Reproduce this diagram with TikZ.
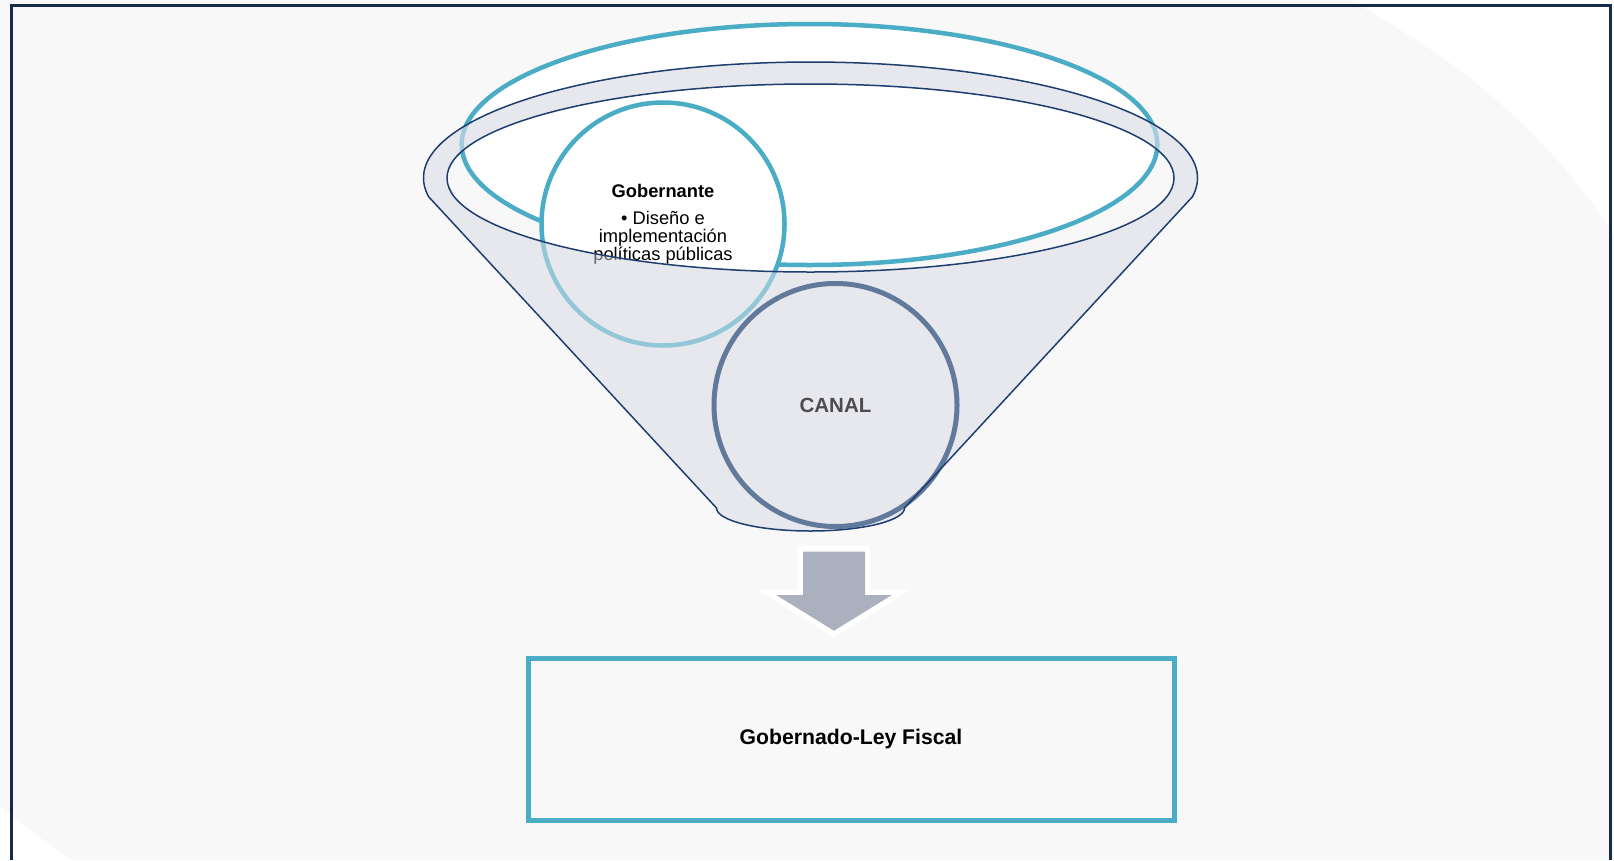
\documentclass[tikz,border=0pt]{standalone}
\usepackage{fontspec}
\setmainfont{Liberation Sans}
\definecolor{bgc}{RGB}{248,248,248}
\definecolor{framec}{RGB}{22,42,74}
\definecolor{tealc}{RGB}{75,172,198}
\definecolor{fdark}{RGB}{30,62,112}
\definecolor{fgray}{RGB}{231,232,237}
\definecolor{canalc}{RGB}{97,121,154}
\definecolor{arrowc}{RGB}{170,176,190}
\definecolor{canaltext}{RGB}{77,77,77}
\tikzset{
  outline/.style={fdark, line width=1.5pt, line join=round},
  roundbox/.style={circle, inner sep=0pt, minimum size=243pt, align=center},
}
\begin{document}
\begin{tikzpicture}[x=1pt,y=1pt]
\useasboundingbox (0,0) rectangle (1614,-860);
% background
\fill[white] (0,0) rectangle (1614,-860);
\fill[bgc] (0,0) -- (1350,0) .. controls (1440,-50) and (1540,-120) .. (1614,-235)
  -- (1614,-860) -- (72,-860) .. controls (45,-842) and (20,-822) .. (0,-806) -- cycle;
% funnel silhouette
\fill[fgray] (428.6,-196.7) arc[start angle=189.27, end angle=-9.27, x radius=387pt, y radius=116pt]
  -- (904.5,-508) arc[start angle=0, end angle=-180, x radius=94pt, y radius=23pt] -- cycle;
% opening
\fill[bgc] (810.5,-178) ellipse[x radius=363.5pt, y radius=94pt];
% top teal ellipse
\fill[white] (809.5,-144.5) ellipse[x radius=347.8pt, y radius=120.5pt];
\begin{scope}
  \clip (0,0) rectangle (1614,-178);
  \fill[fgray, even odd rule] (810.5,-178) ellipse[x radius=387pt, y radius=116pt]
    (810.5,-178) ellipse[x radius=363.5pt, y radius=94pt];
\end{scope}
\draw[tealc, line width=4.5pt] (809.5,-144.5) ellipse[x radius=347.8pt, y radius=120.5pt];
\begin{scope}
  \clip (0,0) rectangle (1614,-178);
  \fill[fgray, fill opacity=0.55, even odd rule] (810.5,-178) ellipse[x radius=387pt, y radius=116pt]
    (810.5,-178) ellipse[x radius=363.5pt, y radius=94pt];
\end{scope}
% Gobernante circle
\fill[fgray] (663,-224) circle[radius=121.5pt];
\begin{scope}
  \clip (810.5,-178) ellipse[x radius=363.5pt, y radius=94pt];
  \fill[white] (663,-224) circle[radius=121.5pt];
\end{scope}
\node[roundbox, draw=tealc, line width=4.5pt, font=\fontsize{18.3}{18}\selectfont] (gob) at (663,-224)
  {\textbf{Gobernante}\\[9pt]• Diseño e\\implementación\\políticas públicas};
% front of funnel (semi transparent)
\begin{scope}
  \clip (0,-178) rectangle (1614,-860);
  \fill[fgray, fill opacity=0.45, even odd rule]
    (428.6,-196.7) arc[start angle=189.27, end angle=-9.27, x radius=387pt, y radius=116pt]
    -- (904.5,-508) arc[start angle=0, end angle=-180, x radius=94pt, y radius=23pt] -- cycle
    (810.5,-178) ellipse[x radius=363.5pt, y radius=94pt];
\end{scope}
% CANAL circle
\node[roundbox, draw=canalc, line width=5pt, fill=fgray, text=canaltext,
  font=\bfseries\fontsize{20.5}{24}\selectfont] (canal) at (835.5,-405) {CANAL};
% funnel outlines
\draw[outline] (428.6,-196.7) arc[start angle=189.27, end angle=-9.27, x radius=387pt, y radius=116pt]
  -- (904.5,-508) arc[start angle=0, end angle=-180, x radius=94pt, y radius=23pt] -- cycle;
\draw[outline] (810.5,-178) ellipse[x radius=363.5pt, y radius=94pt];
% block arrow
\path[draw=white, line width=11pt, line join=miter]
  (803,-551.7) -- (865,-551.7) -- (865,-595) -- (891.8,-595) -- (834,-630.7)
  -- (776.2,-595) -- (803,-595) -- cycle;
\fill[arrowc] (803,-551.7) -- (865,-551.7) -- (865,-595) -- (891.8,-595) -- (834,-630.7)
  -- (776.2,-595) -- (803,-595) -- cycle;
% result box
\node[draw=tealc, line width=5pt, fill=bgc, minimum width=646pt, minimum height=162pt, inner sep=0pt,
  font=\bfseries\fontsize{21.2}{25}\selectfont] (ley) at (851,-739.2) {Gobernado-Ley Fiscal};
% frame
\draw[framec, line width=3pt] (11,-860) -- (11,-5) -- (1610,-5) -- (1610,-860);
\end{tikzpicture}
\end{document}
